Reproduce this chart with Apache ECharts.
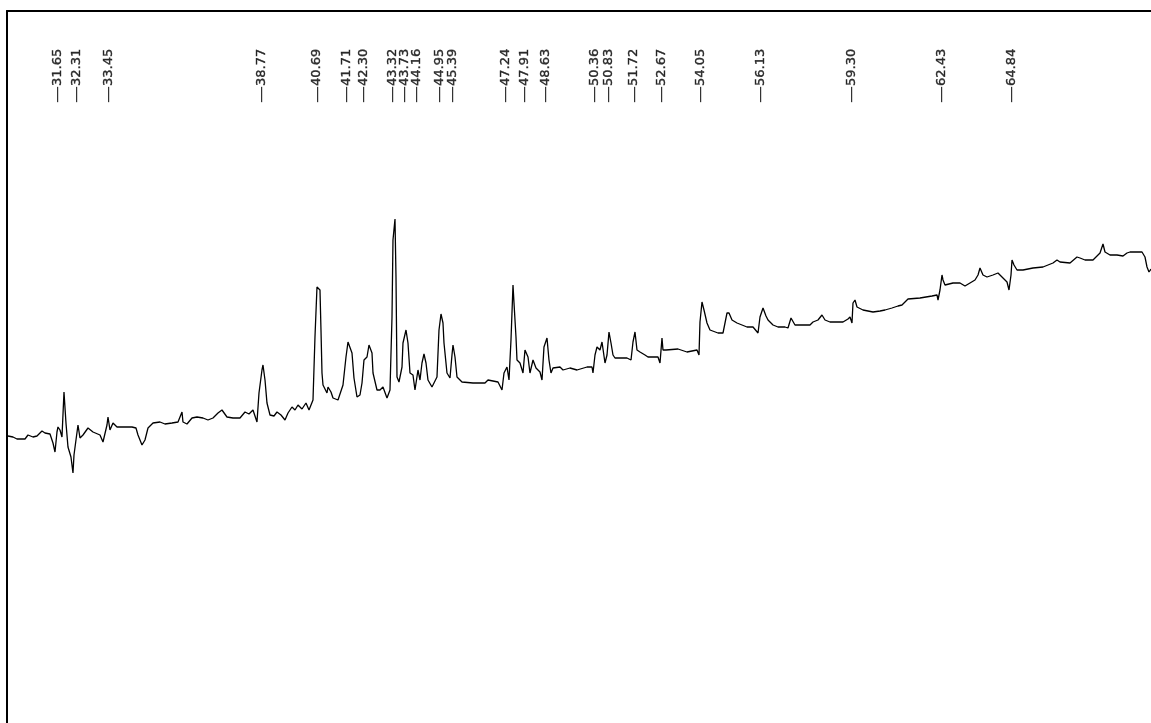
<!DOCTYPE html>
<html>
<head>
<meta charset="utf-8">
<script src="https://cdn.jsdelivr.net/npm/echarts@6/dist/echarts.min.js"></script>
<style>
html,body{margin:0;padding:0;background:#fff;}
#chart{width:1151px;height:723px;}
</style>
</head>
<body>
<div id="chart"></div>
<script>
// Retention times (min) of the trace points
var retentionTimes = [
29.934,30.108,30.248,30.526,30.630,30.804,30.943,31.117,31.222,31.396,
31.500,31.570,31.639,31.674,31.744,31.813,31.883,31.952,32.022,32.126,
32.196,32.231,32.300,32.370,32.440,32.544,32.718,32.892,33.136,33.240,
33.379,33.414,33.483,33.588,33.727,34.249,34.388,34.458,34.597,34.701,
34.806,34.980,35.223,35.397,35.641,35.850,35.989,36.023,36.163,36.337,
36.511,36.719,36.893,37.067,37.241,37.380,37.554,37.763,38.007,38.181,
38.320,38.459,38.598,38.668,38.772,38.807,38.877,38.946,39.051,39.190,
39.294,39.433,39.573,39.677,39.816,39.921,40.025,40.164,40.303,40.408,
40.547,40.616,40.686,40.790,40.825,40.860,40.895,41.034,41.069,41.173,
41.243,41.417,41.591,41.695,41.765,41.834,41.904,41.973,42.078,42.182,
42.252,42.321,42.426,42.495,42.600,42.635,42.774,42.878,42.982,43.122,
43.226,43.296,43.330,43.400,43.435,43.470,43.539,43.644,43.678,43.783,
43.852,43.922,44.026,44.096,44.200,44.270,44.339,44.409,44.479,44.548,
44.687,44.861,44.931,45.001,45.070,45.105,45.209,45.314,45.383,45.418,
45.488,45.557,45.731,46.114,46.532,46.636,46.984,47.123,47.193,47.297,
47.367,47.436,47.506,47.541,47.610,47.645,47.749,47.854,47.923,48.028,
48.097,48.202,48.306,48.445,48.515,48.584,48.689,48.758,48.828,48.898,
49.141,49.246,49.489,49.733,50.081,50.255,50.289,50.359,50.429,50.533,
50.603,50.707,50.777,50.846,50.916,50.985,51.055,51.472,51.612,51.681,
51.751,51.820,51.925,52.099,52.203,52.551,52.621,52.690,52.725,52.829,
53.247,53.560,53.908,53.978,54.012,54.082,54.152,54.256,54.360,54.639,
54.813,54.952,55.022,55.126,55.300,55.648,55.857,56.031,56.100,56.205,
56.309,56.379,56.553,56.727,56.970,57.074,57.179,57.248,57.318,57.840,
57.944,58.118,58.257,58.362,58.536,58.988,59.162,59.232,59.301,59.336,
59.406,59.475,59.684,60.032,60.276,60.450,60.693,60.902,61.041,61.250,
61.667,62.085,62.259,62.294,62.363,62.433,62.468,62.537,62.816,63.059,
63.233,63.407,63.581,63.686,63.755,63.859,63.999,64.207,64.381,64.555,
64.695,64.764,64.834,64.869,64.938,65.043,65.251,65.599,65.947,66.295,
66.434,66.539,66.887,67.130,67.235,67.409,67.687,67.931,68.035,68.104,
68.278,68.522,68.731,68.870,68.974,69.392,69.496,69.566,69.635,69.705
];
// Detector response (arbitrary units) at each retention time
var intensities = [
297,296,294,294,298,296,297,302,300,299,
290,281,301,306,303,296,341,310,286,276,
260,278,293,308,295,298,305,301,298,291,
308,316,303,310,306,306,305,298,288,293,
305,310,311,309,310,311,321,311,309,315,
316,315,313,315,320,323,316,315,315,321,
319,323,311,340,363,368,353,330,318,317,
321,318,313,320,326,323,328,324,330,323,
333,396,446,443,403,360,348,340,346,341,
335,333,348,376,391,393,380,355,336,338,
350,373,376,388,380,360,343,343,346,335,
343,416,493,514,456,356,351,366,390,403,
390,360,358,343,363,353,370,379,370,353,
346,356,403,419,410,390,360,355,378,388,
376,356,351,350,350,353,351,343,360,366,
353,393,448,430,396,373,370,360,383,376,
360,373,365,361,353,386,395,373,360,365,
366,363,365,363,366,366,360,378,386,383,
391,370,378,401,390,378,375,375,373,391,
401,383,381,378,376,376,370,395,383,383,
384,381,383,378,411,431,423,410,403,400,
400,420,420,413,410,406,406,400,416,425,
417,413,408,406,406,405,415,416,408,408,
411,413,418,413,411,411,414,416,410,430,
433,426,423,421,422,423,425,427,428,434,
435,437,438,433,443,458,453,448,450,450,
447,450,453,458,465,458,456,458,460,455,
451,443,458,473,468,463,463,465,466,470,
473,471,470,476,475,473,473,480,489,481,
478,478,477,480,481,481,476,466,461,464
];
// Peak label retention times
var peakTimes = [31.65,32.31,33.45,38.77,40.69,41.71,42.30,43.32,43.73,44.16,44.95,45.39,
                 47.24,47.91,48.63,50.36,50.83,51.72,52.67,54.05,56.13,59.30,62.43,64.84];
var peakLabelLevel = 630;

var traceData = retentionTimes.map(function(t,i){return [t, intensities[i]];});
var labelData = peakTimes.map(function(t){return [t, peakLabelLevel];});

var chart = echarts.init(document.getElementById('chart'), null, {renderer:'canvas'});
chart.setOption({
  animation:false,
  backgroundColor:'#ffffff',
  grid:{left:7, top:11, right:0, bottom:0, show:false},
  xAxis:{type:'value', min:29.9, max:69.705, position:'top',
    axisLine:{show:true, onZero:false, lineStyle:{color:'#000', width:2}},
    axisTick:{show:false}, axisLabel:{show:false}, splitLine:{show:false}},
  yAxis:{type:'value', min:10, max:722, position:'left',
    axisLine:{show:true, onZero:false, lineStyle:{color:'#000', width:2}},
    axisTick:{show:false}, axisLabel:{show:false}, splitLine:{show:false}},
  series:[
    {type:'line', data:traceData, showSymbol:false, symbol:'none', silent:true,
     lineStyle:{color:'#000', width:1.3}, clip:true},
    {type:'scatter', data:labelData, symbolSize:0.1, silent:true, clip:false,
     itemStyle:{color:'rgba(0,0,0,0)'},
     label:{show:true, position:'inside', rotate:90, align:'left', verticalAlign:'middle',
       formatter:function(p){return '{d|\u2014}{n|' + p.value[0].toFixed(2) + '}';},
       rich:{
         d:{fontSize:17, fontFamily:'DejaVu Sans', color:'#000'},
         n:{fontSize:13, fontFamily:'DejaVu Sans', color:'#000', textBorderColor:'#000', textBorderWidth:0.4}
       }}
    }
  ]
});
</script>
</body>
</html>
